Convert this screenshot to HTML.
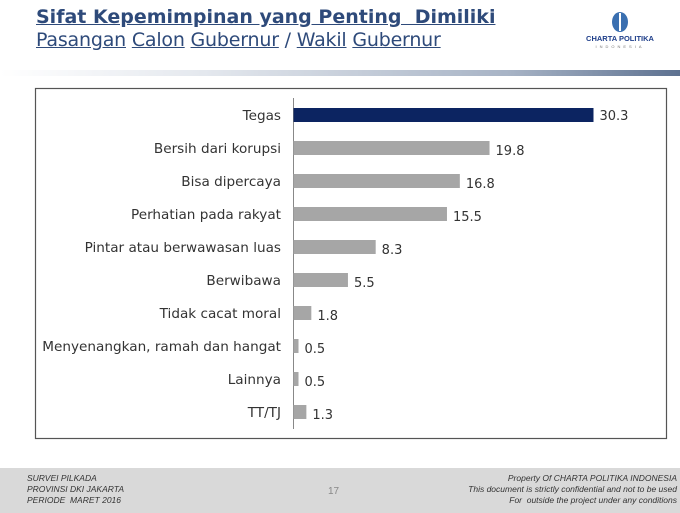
<!DOCTYPE html>
<html><head><meta charset="utf-8">
<style>
body{margin:0;width:680px;height:513px;background:#fff;position:relative;overflow:hidden;font-family:"DejaVu Sans","Liberation Sans",sans-serif}
.t1{position:absolute;left:36px;top:6px;font-size:19px;font-weight:bold;color:#2e4a7a;text-decoration:underline;text-decoration-color:#2e4a7a;white-space:nowrap}
.t2{position:absolute;left:36px;top:29px;font-size:19px;color:#2e4a7a;white-space:nowrap;letter-spacing:-0.2px}
.t2 span{text-decoration:underline}
.rule{position:absolute;left:0;top:70px;width:680px;height:6px;background:linear-gradient(90deg,#ffffff 0%,#e4e8ee 30%,#a7b3c5 75%,#5d7190 100%)}
.foot{position:absolute;left:0;top:468px;width:680px;height:45px;background:#d9d9d9;font-family:"Liberation Sans",sans-serif;font-style:italic;font-size:8.5px;color:#333}
</style></head><body>
<div class="t1">Sifat Kepemimpinan yang Penting&nbsp; Dimiliki</div>
<div class="t2"><span>Pasangan</span> <span>Calon</span> <span>Gubernur</span> / <span>Wakil</span> <span>Gubernur</span></div>
<svg style="position:absolute;left:570px;top:10px" width="100" height="40">
<ellipse cx="50" cy="12" rx="8" ry="10" fill="#3a6fb0"/><rect x="49" y="3" width="2" height="18" fill="#fff"/>
<text x="50" y="31" font-size="7.5" font-weight="bold" fill="#1f3f8a" text-anchor="middle" font-family="Liberation Sans">CHARTA POLITIKA</text>
<text x="50" y="38" font-size="4" fill="#777" text-anchor="middle" letter-spacing="3" font-family="Liberation Sans">INDONESIA</text>
</svg>
<div class="rule"></div>
<svg id="chart" style="position:absolute;left:0;top:0" width="680" height="513">
<rect x="35.5" y="88.5" width="631" height="350" fill="none" stroke="#555" stroke-width="1.2"/>
<line x1="293.5" y1="98" x2="293.5" y2="429" stroke="#888" stroke-width="1"/>
<g id="bars"></g>
</svg>
<div class="foot">
<div style="position:absolute;left:27px;top:5px;line-height:11px">SURVEI PILKADA<br>PROVINSI DKI JAKARTA<br>PERIODE&nbsp; MARET 2016</div>
<div style="position:absolute;left:328px;top:18px;font-style:normal;font-size:10px;color:#888">17</div>
<div style="position:absolute;right:3px;top:5px;line-height:11px;text-align:right">Property Of CHARTA POLITIKA INDONESIA<br>This document is strictly confidential and not to be used<br>For&nbsp; outside the project under any conditions</div>
</div>
<script>
const categories=["Tegas","Bersih dari korupsi","Bisa dipercaya","Perhatian pada rakyat","Pintar atau berwawasan luas","Berwibawa","Tidak cacat moral","Menyenangkan, ramah dan hangat","Lainnya","TT/TJ"];
const values=[30.3,19.8,16.8,15.5,8.3,5.5,1.8,0.5,0.5,1.3];
const labels=["30.3","19.8","16.8","15.5","8.3","5.5","1.8","0.5","0.5","1.3"];
const NS="http://www.w3.org/2000/svg";
const x0=293.5, pxPerUnit=300/30.3;
function xs(v){return Math.max(v*pxPerUnit,5);}
function yc(i){return 115+i*33;}
const g=document.getElementById('bars');
categories.forEach((c,i)=>{
  const r=document.createElementNS(NS,'rect');
  
  
  r.setAttribute('x',x0);r.setAttribute('y',yc(i)-7);
  r.setAttribute('width',xs(values[i]));r.setAttribute('height',14);
  r.setAttribute('fill',i===0?'#0c2461':'#a6a6a6');
  g.appendChild(r);
  const t=document.createElementNS(NS,'text');
  
  
  t.setAttribute('x',281);t.setAttribute('y',yc(i)+5);
  t.setAttribute('text-anchor','end');t.setAttribute('font-size','13.6');
  t.setAttribute('fill','#333');
  t.textContent=c;g.appendChild(t);
  const v=document.createElementNS(NS,'text');
  
  
  v.setAttribute('x',x0+xs(values[i])+6);v.setAttribute('y',yc(i)+5+(i===0?0:2));
  v.setAttribute('font-size','13');v.setAttribute('fill','#333');
  v.textContent=labels[i];g.appendChild(v);
});
</script>
</body></html>
